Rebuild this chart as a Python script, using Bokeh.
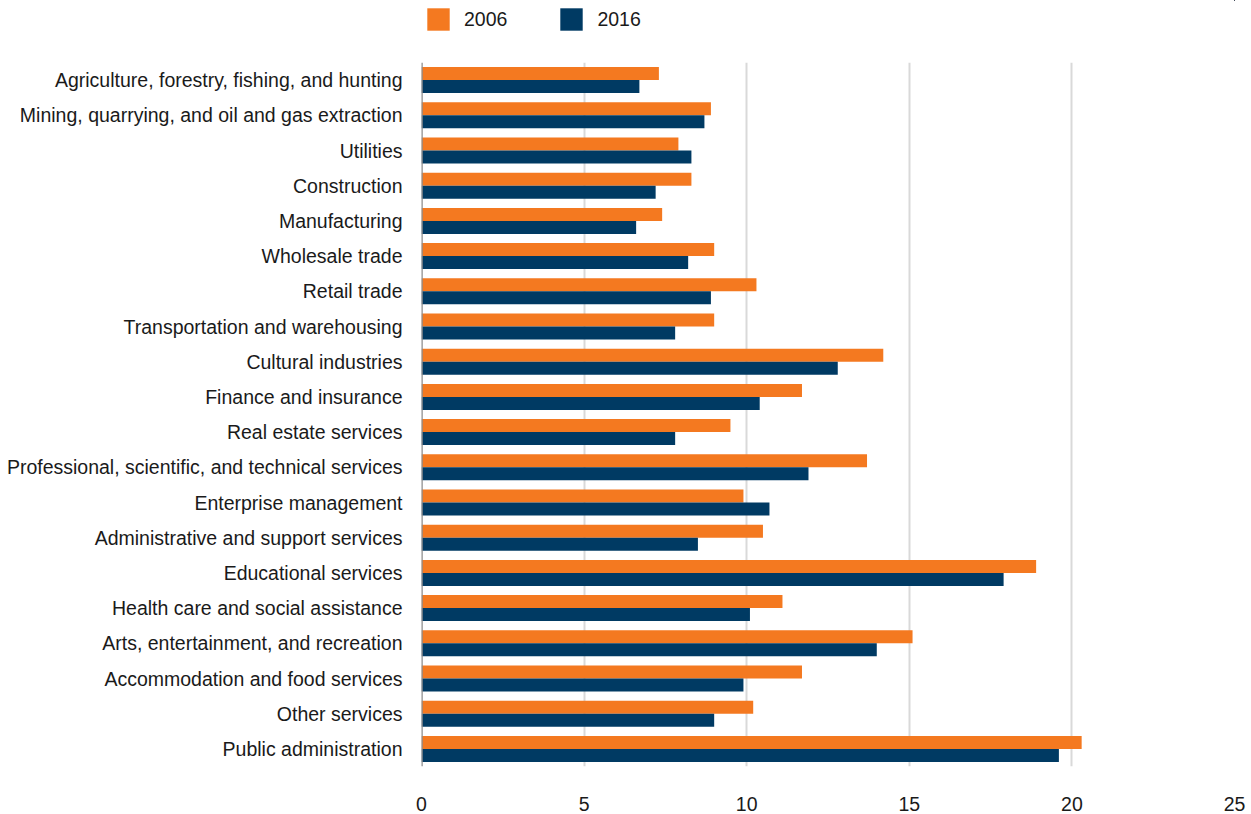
from bokeh.plotting import figure
from bokeh.models import (ColumnDataSource, FactorRange, Range1d, FixedTicker,
                          Legend, LegendItem, Span)
from bokeh.transform import dodge
from bokeh.layouts import column
from bokeh.embed import file_html
from bokeh.resources import INLINE

categories = [
    "Agriculture, forestry, fishing, and hunting",
    "Mining, quarrying, and oil and gas extraction",
    "Utilities",
    "Construction",
    "Manufacturing",
    "Wholesale trade",
    "Retail trade",
    "Transportation and warehousing",
    "Cultural industries",
    "Finance and insurance",
    "Real estate services",
    "Professional, scientific, and technical services",
    "Enterprise management",
    "Administrative and support services",
    "Educational services",
    "Health care and social assistance",
    "Arts, entertainment, and recreation",
    "Accommodation and food services",
    "Other services",
    "Public administration",
]
values_2006 = [7.3, 8.9, 7.9, 8.3, 7.4, 9.0, 10.3, 9.0, 14.2, 11.7,
               9.5, 13.7, 9.9, 10.5, 18.9, 11.1, 15.1, 11.7, 10.2, 20.3]
values_2016 = [6.7, 8.7, 8.3, 7.2, 6.6, 8.2, 8.9, 7.8, 12.8, 10.4,
               7.8, 11.9, 10.7, 8.5, 17.9, 10.1, 14.0, 9.9, 9.0, 19.6]
series_names = ["2006", "2016"]
x_ticks = [0, 5, 10, 15, 20, 25]

ORANGE = "#F47920"
NAVY = "#003A63"
FONT = "Liberation Sans"
FS = "19.5px"

source = ColumnDataSource(dict(cat=categories, v2006=values_2006, v2016=values_2016))

p = figure(
    width=1251, height=752,
    y_range=FactorRange(factors=list(reversed(categories)), range_padding=0),
    x_range=Range1d(0, 25),
    output_backend="svg", toolbar_location=None,
    min_border_left=421, min_border_right=17, min_border_top=0, min_border_bottom=48,
)

r1 = p.hbar(y=dodge("cat", 0.185, range=p.y_range), right="v2006", left=0, height=0.37,
            source=source, fill_color=ORANGE, line_color=None)
r2 = p.hbar(y=dodge("cat", -0.185, range=p.y_range), right="v2016", left=0, height=0.37,
            source=source, fill_color=NAVY, line_color=None)

p.outline_line_color = None
p.ygrid.grid_line_color = None
p.xgrid.grid_line_color = "#d9d9d9"
p.xgrid.grid_line_width = 2
p.xaxis.ticker = FixedTicker(ticks=x_ticks)
p.xgrid.ticker = FixedTicker(ticks=x_ticks)

p.add_layout(Span(location=0, dimension="height", line_color="#8c8c8c", line_width=2.5))

p.xaxis.axis_line_color = None
p.xaxis.major_tick_line_color = None
p.xaxis.minor_tick_line_color = None
p.xaxis.major_label_standoff = 24
p.xaxis.major_label_text_font = FONT
p.xaxis.major_label_text_font_size = FS
p.xaxis.major_label_text_color = "#1a1a1a"

p.yaxis.axis_line_color = None
p.yaxis.major_tick_line_color = None
p.yaxis.minor_tick_line_color = None
p.yaxis.major_label_standoff = 13
p.yaxis.major_label_text_font = FONT
p.yaxis.major_label_text_font_size = FS
p.yaxis.major_label_text_color = "#1a1a1a"

# Legend strip above the chart (its frame is aligned with the chart's frame).
# The series are drawn here outside the visible ranges; only their legend swatches show.
lf = figure(width=1251, height=62, x_range=Range1d(-2, -1), y_range=Range1d(-2, -1),
            x_axis_type=None, y_axis_type=None, output_backend="svg",
            toolbar_location=None, min_border=0)
lf.outline_line_color = None
lf.xgrid.visible = False
lf.ygrid.visible = False
lr1 = lf.hbar(y="v2006", right="v2006", left=0, height=0.37, source=source,
              fill_color=ORANGE, line_color=None)
lr2 = lf.hbar(y="v2016", right="v2016", left=0, height=0.37, source=source,
              fill_color=NAVY, line_color=None)
legend = Legend(
    items=[LegendItem(label=series_names[0], renderers=[lr1]),
           LegendItem(label=series_names[1], renderers=[lr2])],
    location=(3, 29), orientation="horizontal",
    glyph_width=28, glyph_height=28, label_standoff=12, spacing=50,
    padding=0, margin=0, border_line_color=None, background_fill_alpha=0,
    label_text_font=FONT, label_text_font_size=FS, label_text_color="#1a1a1a",
)
lf.add_layout(legend, "center")

layout = column(lf, p, spacing=0)
open("out.html", "w").write(file_html(layout, INLINE))
